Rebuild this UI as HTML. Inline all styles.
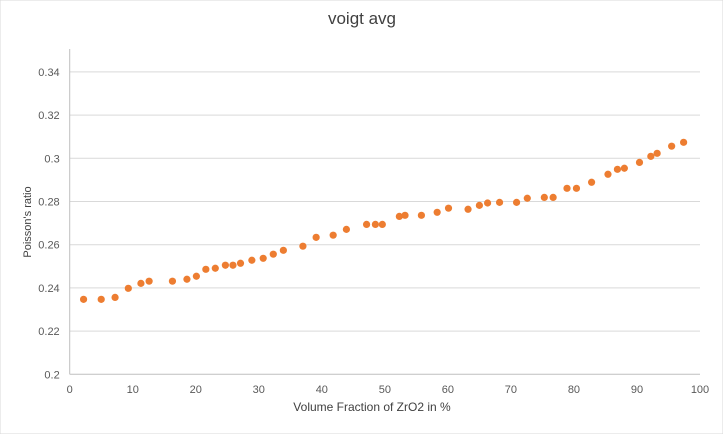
<!DOCTYPE html>
<html><head><meta charset="utf-8"><style>
html,body{margin:0;padding:0;background:#fff;}
body{width:723px;height:434px;overflow:hidden;font-family:"Liberation Sans",sans-serif;}
</style></head><body>
<svg width="723" height="434" xmlns="http://www.w3.org/2000/svg">
<rect width="723" height="434" fill="#fff" stroke="#d9d9d9"/>
<text x="362" y="24" text-anchor="middle" font-size="17" fill="#404040" font-family="Liberation Sans, sans-serif">voigt avg</text>
<g id="grid"></g><g id="axes"></g><g id="pts"></g>
<text x="372" y="411" text-anchor="middle" font-size="12" fill="#404040">Volume Fraction of ZrO2 in %</text>
<text transform="translate(31,222) rotate(-90)" text-anchor="middle" font-size="11" fill="#404040">Poisson's ratio</text>
</svg>
<script>
const xValues=[2.2,5.0,7.2,9.3,11.3,12.6,16.3,18.6,20.1,21.6,23.1,24.7,25.9,27.1,28.9,30.7,32.3,33.9,37.0,39.1,41.8,43.9,47.1,48.5,49.6,52.3,53.2,55.8,58.3,60.1,63.2,65.0,66.3,68.2,70.9,72.6,75.3,76.7,78.9,80.4,82.8,85.4,86.9,88.0,90.4,92.2,93.2,95.5,97.4];
const yValues=[0.2347,0.2347,0.2356,0.2398,0.2421,0.2431,0.2431,0.2440,0.2454,0.2486,0.2491,0.2505,0.2505,0.2514,0.2528,0.2537,0.2556,0.2574,0.2593,0.2634,0.2644,0.2671,0.2694,0.2694,0.2694,0.2731,0.2736,0.2736,0.2750,0.2769,0.2764,0.2782,0.2793,0.2796,0.2796,0.2815,0.2819,0.2819,0.2861,0.2861,0.2889,0.2926,0.2949,0.2954,0.2981,0.3009,0.3023,0.3056,0.3074];
const xTicks=[0,10,20,30,40,50,60,70,80,90,100];
const yTicks=[0.2,0.22,0.24,0.26,0.28,0.3,0.32,0.34];
const yTickLabels=["0.2","0.22","0.24","0.26","0.28","0.3","0.32","0.34"];
const NS="http://www.w3.org/2000/svg";
const X0=69.7,X1=700,Y0=374.3,PXY=43.2/0.02;
const sx=v=>X0+(v-0)/100*(X1-X0);
const sy=v=>Y0-(v-0.2)*PXY;
function mk(t,a,p){const e=document.createElementNS(NS,t);for(const k in a)e.setAttribute(k,a[k]);p.appendChild(e);return e;}
const grid=document.getElementById('grid'),axes=document.getElementById('axes'),pts=document.getElementById('pts');
yTicks.forEach((v,i)=>{
 if(i>0){const l=mk('line',{x1:X0,x2:X1,y1:sy(v),y2:sy(v),stroke:'#d9d9d9','stroke-width':1},grid);
 
 }
 const t=mk('text',{x:X0-10,y:sy(v)+4,'text-anchor':'end','font-size':11,fill:'#595959'},axes);
 t.textContent=yTickLabels[i];
 
 
});
xTicks.forEach(v=>{
 const t=mk('text',{x:sx(v),y:393,'text-anchor':'middle','font-size':11,fill:'#595959'},axes);
 t.textContent=String(v);
 
 
});
const ya=mk('line',{x1:X0,x2:X0,y1:49,y2:Y0,stroke:'#bfbfbf'},axes);


const xa=mk('line',{x1:X0,x2:X1,y1:Y0,y2:Y0,stroke:'#bfbfbf'},axes);


xValues.forEach((x,i)=>{
 const c=mk('circle',{cx:sx(x),cy:sy(yValues[i]),r:3.6,fill:'#ed7d31'},pts);
 
 
});
</script>
</body></html>
